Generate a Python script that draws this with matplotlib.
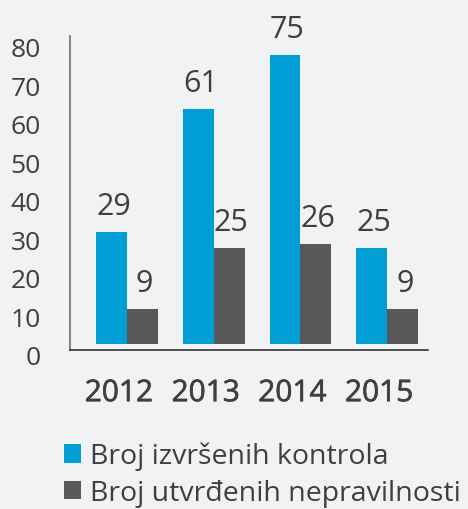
import matplotlib
matplotlib.use("Agg")
import matplotlib.pyplot as plt
import matplotlib.patheffects as pe
import numpy as np
from matplotlib.transforms import ScaledTranslation
from matplotlib.patches import Patch

years = ["2012", "2013", "2014", "2015"]
kontrole = [29, 61, 75, 25]
nepravilnosti = [9, 25, 26, 9]
series_names = ["Broj izvršenih kontrola", "Broj utvrđenih nepravilnosti"]
yticks = [0, 10, 20, 30, 40, 50, 60, 70, 80]

BG = "#f1f2f4"
CYAN = "#009ed4"
GRAY = "#58585a"
TXT = "#3f3f41"
FONT = "Open Sans"

plt.rcParams["font.family"] = [FONT, "DejaVu Sans"]

W, H = 468, 510
dpi = 100
fig = plt.figure(figsize=(W / dpi, H / dpi), dpi=dpi, facecolor=BG)
ax = fig.add_axes([70 / W, (H - 351) / H, (428 - 70) / W, (351 - 37) / H])
ax.set_facecolor(BG)

x = np.arange(len(years))
w = 0.357
b1 = ax.bar(x - w / 2, kontrole, w, color=CYAN, label=series_names[0])
b2 = ax.bar(x + w / 2, nepravilnosti, w, color=GRAY, label=series_names[1])

for bars, vals in ((b1, kontrole), (b2, nepravilnosti)):
    for r, v in zip(bars, vals):
        ax.annotate(str(v), (r.get_x() + r.get_width() / 2, r.get_height()),
                    xytext=(1.5, 8), textcoords="offset points", ha="center",
                    va="bottom", fontsize=22, color=TXT, annotation_clip=False)

ax.set_xlim(-0.657, 3.47)
ax.set_ylim(-1.53, 78.6)

ax.set_yticks(yticks)
ax.set_yticklabels([str(t) for t in yticks], fontsize=19, color=TXT)
ax.tick_params(axis="y", length=0, pad=21)
off_y = ScaledTranslation(0, -10.5 / dpi, fig.dpi_scale_trans)
for lab in ax.get_yticklabels():
    lab.set_transform(lab.get_transform() + off_y)

ax.set_xticks(x)
ax.set_xticklabels(years, fontsize=21.5, color=TXT)
ax.tick_params(axis="x", length=0, pad=21)
off_x = ScaledTranslation(-8 / dpi, 0, fig.dpi_scale_trans)
for lab in ax.get_xticklabels():
    lab.set_transform(lab.get_transform() + off_x)
    lab.set_path_effects([pe.withStroke(linewidth=0.45, foreground=TXT)])

for s in ("top", "right"):
    ax.spines[s].set_visible(False)
ax.spines["left"].set_color("#6d6d6f")
ax.spines["bottom"].set_color("#333333")
ax.spines["left"].set_linewidth(1.2)
ax.spines["bottom"].set_linewidth(1.2)

handles = [Patch(facecolor=CYAN), Patch(facecolor=GRAY)]
fig.legend(handles, series_names, loc="upper left",
           bbox_to_anchor=(64 / W, 1 - 443 / H), frameon=False,
           fontsize=20.5, labelcolor=TXT, handlelength=0.6, handleheight=0.6,
           handletextpad=0.3, labelspacing=0.3, borderaxespad=0, borderpad=0)

fig.savefig("out.png", dpi=dpi, facecolor=BG)
